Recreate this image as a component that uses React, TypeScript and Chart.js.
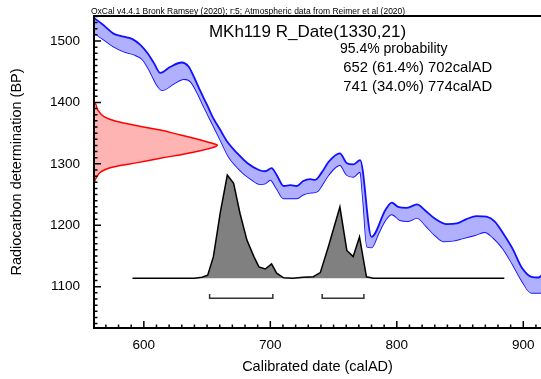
import { useEffect, useRef } from 'react';
import { Chart, registerables } from 'chart.js';

Chart.register(...registerables);

const FONT = '"Liberation Sans", Arial, Helvetica, sans-serif';

// Sample and radiocarbon measurement
const SAMPLE = 'MKh119';
const R_MEAN = 1330;
const R_SD = 21;
const HEADER = 'OxCal v4.4.1 Bronk Ramsey (2020); r:5; Atmospheric data from Reimer et al (2020)';

// IntCal20 calibration band: upper edge
const curveHiYear = [560, 563, 568, 576, 584, 591, 597, 603, 608, 613, 621, 630, 635.5, 639.5, 645, 650, 655, 660.5, 666, 674, 682, 691, 696, 701, 705, 710.5, 716, 721, 726, 731.5, 735.5, 741, 746, 755, 760.5, 765.5, 771, 780, 791, 796, 801, 808, 816, 822, 830, 839.5, 847.5, 855, 863, 871, 877.5, 884, 892, 898.5, 906.5, 912, 915];
const curveHiBP = [1538, 1534, 1526, 1512, 1507, 1503, 1494, 1480, 1464, 1448, 1458, 1465, 1458, 1442, 1417, 1396, 1374, 1355, 1336, 1317, 1301, 1290, 1288, 1293, 1282, 1264, 1265.5, 1264, 1272, 1275, 1274, 1287, 1303, 1317, 1301, 1299, 1306, 1181, 1225, 1237, 1230, 1228.5, 1234, 1225, 1211, 1202, 1203, 1210, 1215, 1214, 1206, 1187, 1160, 1132, 1116, 1115, 1119];

// IntCal20 calibration band: lower edge
const curveLoYear = [560, 568.5, 576, 584, 592, 599, 605, 610.5, 614.5, 624, 631.5, 637, 642, 647.5, 654, 660.5, 667, 676, 684, 692, 696, 700, 705, 710.5, 721, 726, 731.5, 737, 741, 746, 755, 760.5, 765.5, 771, 773.5, 776.5, 780, 785.5, 791, 796, 802.5, 809, 816, 823.5, 830, 837, 844.5, 852.5, 862, 869.5, 876, 884, 892, 898.5, 906.5, 913, 915];
const curveLoBP = [1514, 1502, 1491, 1483, 1478, 1470, 1450, 1428, 1420, 1431, 1438, 1434, 1417, 1393, 1366, 1339, 1312, 1290, 1276, 1267, 1268, 1274, 1260, 1244, 1244, 1250, 1253, 1255, 1266, 1282, 1298, 1282, 1279, 1287, 1238, 1165, 1164, 1187, 1208.5, 1218, 1208.5, 1207, 1212, 1198, 1184, 1174, 1175, 1179, 1184, 1189, 1180, 1162, 1135, 1111, 1090, 1090, 1092];

// Measurement distribution on the BP axis (extent in calendar years from the axis)
const measBP = [1400, 1397, 1388, 1377, 1369, 1362, 1355, 1347, 1339, 1333.5, 1330, 1324, 1317, 1309, 1302, 1295, 1287, 1276, 1268];
const measYear = [560.6, 562, 563.5, 568.5, 579, 595, 613, 629, 645, 654, 658, 650, 634, 613, 595, 576, 566, 562, 560.6];

// Calibrated probability (relative, peak = 100)
const probYear = [591, 640, 646, 650.5, 655, 660.5, 666, 671, 676, 681.5, 687, 691, 696, 701, 705, 710.5, 718, 726, 734, 739.5, 746, 755, 760.5, 765.5, 770.5, 776, 781.5, 885];
const probDensity = [0, 0, 1, 3, 21, 64, 100, 92, 63, 37, 21, 11, 9, 14, 5, 0.5, 0, 1, 1.5, 5.5, 31, 69, 27, 21, 40, 1.5, 0, 0];

// 95.4% ranges
const CONFIDENCE = 95.4;
const rangeFrom = [652, 741];
const rangeTo = [702, 774];
const rangePct = [61.4, 34.0];

// Axis tick labels
const xTicks = [600, 700, 800, 900];
const yTicks = [1100, 1200, 1300, 1400, 1500];

// Bracket levels on the probability axis
const BRACKET_TOP = -15.2;
const BRACKET_LINE = -19.4;

const pts = (xs: number[], ys: number[]) => xs.map((x, i) => ({ x, y: ys[i] }));

const bracketData = (i: number) => [
  { x: rangeFrom[i], y: BRACKET_TOP },
  { x: rangeFrom[i], y: BRACKET_LINE },
  { x: rangeTo[i], y: BRACKET_LINE },
  { x: rangeTo[i], y: BRACKET_TOP },
];

const framePlugin = {
  id: 'oxcalFrame',
  afterDatasetsDraw(chart: any) {
    const { ctx, chartArea: a, scales } = chart;
    const xs = scales.x;
    const ys = scales.y;
    ctx.save();
    ctx.strokeStyle = '#000';
    ctx.lineWidth = 1.5;
    ctx.beginPath();
    for (let v = 1040; v <= 1540; v += 10) {
      const len = v % 100 === 0 ? 7 : 3.5;
      const py = ys.getPixelForValue(v);
      ctx.moveTo(a.left, py);
      ctx.lineTo(a.left + len, py);
    }
    for (let v = 570; v <= 910; v += 10) {
      const len = v % 100 === 0 ? 7 : 3.5;
      const px = xs.getPixelForValue(v);
      ctx.moveTo(px, a.bottom);
      ctx.lineTo(px, a.bottom - len);
    }
    ctx.stroke();
    ctx.lineWidth = 2;
    ctx.beginPath();
    ctx.moveTo(a.left - 1, a.top);
    ctx.lineTo(a.right, a.top);
    ctx.moveTo(a.left, a.top);
    ctx.lineTo(a.left, a.bottom + 1);
    ctx.moveTo(a.left - 1, a.bottom);
    ctx.lineTo(a.right, a.bottom);
    ctx.stroke();
    ctx.restore();
  },
  afterDraw(chart: any) {
    const { ctx } = chart;
    ctx.save();
    ctx.fillStyle = '#000';
    ctx.textBaseline = 'alphabetic';
    ctx.textAlign = 'left';
    ctx.font = `8.5px ${FONT}`;
    ctx.fillText(HEADER, 91, 14);
    ctx.textAlign = 'center';
    ctx.font = `17px ${FONT}`;
    ctx.fillText(`${SAMPLE} R_Date(${R_MEAN},${R_SD})`, 307.5, 37.3);
    ctx.textAlign = 'left';
    ctx.font = `14px ${FONT}`;
    ctx.fillText(`${CONFIDENCE}% probability`, 340, 53);
    ctx.font = `14.8px ${FONT}`;
    const lines = [72.3, 90.7];
    rangeFrom.forEach((f, i) => {
      ctx.fillText(`${f} (${rangePct[i].toFixed(1)}%) ${rangeTo[i]}calAD`, 343.3, lines[i]);
    });
    ctx.restore();
  },
};

export default function App() {
  const ref = useRef<HTMLCanvasElement>(null);

  useEffect(() => {
    const canvas = ref.current;
    if (!canvas) return;
    const chart = new Chart(canvas, {
      type: 'line',
      data: {
        datasets: [
          {
            label: 'IntCal20 upper',
            data: pts(curveHiYear, curveHiBP),
            borderColor: '#1010ff',
            borderWidth: 1.8,
            backgroundColor: 'rgb(176,176,255)',
            fill: '+1',
            pointRadius: 0,
            cubicInterpolationMode: 'monotone',
          },
          {
            label: 'IntCal20 lower',
            data: pts(curveLoYear, curveLoBP),
            borderColor: '#1010ff',
            borderWidth: 1.8,
            fill: false,
            pointRadius: 0,
            cubicInterpolationMode: 'monotone',
          },
          {
            label: 'R_Date',
            data: pts(measYear, measBP),
            borderColor: '#ff0000',
            borderWidth: 1.5,
            backgroundColor: 'rgb(255,180,180)',
            fill: 'shape',
            pointRadius: 0,
            tension: 0.4,
          },
          {
            label: 'Calibrated',
            data: pts(probYear, probDensity),
            yAxisID: 'yp',
            borderColor: '#000',
            borderWidth: 1.5,
            backgroundColor: '#808080',
            fill: 'origin',
            pointRadius: 0,
            tension: 0,
          },
          {
            label: 'range 1',
            data: bracketData(0),
            yAxisID: 'yp',
            borderColor: '#333',
            borderWidth: 1.5,
            fill: false,
            pointRadius: 0,
          },
          {
            label: 'range 2',
            data: bracketData(1),
            yAxisID: 'yp',
            borderColor: '#333',
            borderWidth: 1.5,
            fill: false,
            pointRadius: 0,
          },
        ],
      },
      options: {
        responsive: false,
        animation: false,
        events: [],
        layout: { padding: { top: 16, left: 0, right: 0, bottom: 0 }, autoPadding: false },
        plugins: {
          legend: { display: false },
          tooltip: { enabled: false },
        },
        scales: {
          x: {
            type: 'linear',
            min: 560.6,
            max: 914,
            afterFit: (s: any) => { s.height = 51; },
            afterBuildTicks: (s: any) => { s.ticks = xTicks.map((v) => ({ value: v })); },
            grid: { display: false },
            border: { display: false },
            ticks: {
              padding: 1,
              color: '#000',
              font: { family: FONT, size: 13.5 },
              maxRotation: 0,
              autoSkip: false,
              callback: (v: any) => String(v),
            },
            title: {
              display: true,
              text: 'Calibrated date (calAD)',
              color: '#000',
              font: { family: FONT, size: 14.5 },
              padding: { top: 0, bottom: 3.3 },
            },
          },
          y: {
            type: 'linear',
            position: 'left',
            min: 1032.8,
            max: 1540.7,
            afterFit: (s: any) => { s.width = 94; },
            afterBuildTicks: (s: any) => { s.ticks = yTicks.map((v) => ({ value: v })); },
            grid: { display: false },
            border: { display: false },
            ticks: {
              padding: 6,
              color: '#000',
              font: { family: FONT, size: 13.5 },
              autoSkip: false,
              callback: (v: any) => String(v),
            },
            title: {
              display: true,
              text: 'Radiocarbon determination (BP)',
              color: '#000',
              font: { family: FONT, size: 14.5 },
              padding: { top: 8.3, bottom: 0 },
            },
          },
          yp: {
            type: 'linear',
            display: false,
            min: -48.1,
            max: 253.9,
          },
        },
      } as any,
      plugins: [framePlugin],
    });
    return () => chart.destroy();
  }, []);

  return (
    <div style={{ position: 'absolute', left: 0, top: 0, width: 541, height: 379, background: '#fff' }}>
      <canvas ref={ref} width={541} height={379} style={{ display: 'block' }} />
    </div>
  );
}
